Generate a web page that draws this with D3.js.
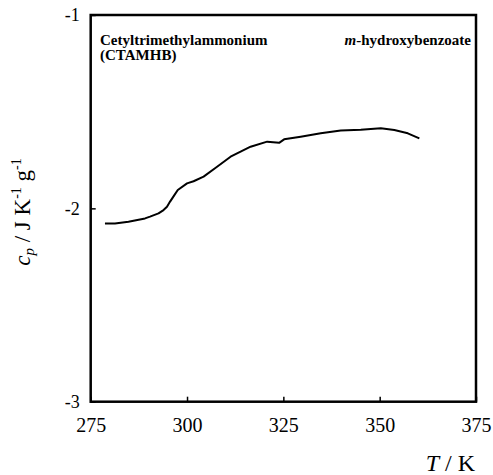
<!DOCTYPE html>
<html>
<head>
<meta charset="utf-8">
<script src="https://cdn.jsdelivr.net/npm/d3@7"></script>
<style>
  body { margin: 0; background: #fff; }
  svg, svg text { font-family: "Liberation Serif", "Times New Roman", serif; }
  .axis path { display: none; }
  .axis line { stroke: #000; stroke-width: 1.5; }
  .axis text { fill: #000; }
</style>
</head>
<body>
<div id="chart"></div>
<script>
// heat capacity trace
const temps = [278.7, 281.3, 284.8, 289.1, 290.4, 292.6, 293.9, 294.8, 295.6, 296.5, 297.6, 300.0,
  301.7, 304.3, 307.8, 311.3, 313.9, 316.5, 320.8, 323.9, 325.2, 329.5, 334.7, 339.9, 345.1,
  350.3, 353.8, 357.3, 360.3];
const cps = [-2.078, -2.078, -2.069, -2.052, -2.043, -2.026, -2.009, -1.992, -1.965, -1.938, -1.905, -1.871,
  -1.860, -1.836, -1.785, -1.733, -1.707, -1.681, -1.655, -1.661, -1.643, -1.630, -1.612, -1.597, -1.593,
  -1.586, -1.595, -1.612, -1.638];
const xTicks = [275, 300, 325, 350, 375];
const yTicks = [-3, -2, -1];
const title1 = "Cetyltrimethylammonium";
const title2 = "hydroxybenzoate";
const title3 = "(CTAMHB)";

const width = 493, height = 475;
const pLeft = 90.7, pRight = 476, pTop = 15, pBottom = 401.7;
const serif = "'Liberation Serif', 'Times New Roman', serif";

const svg = d3.select("#chart").append("svg")
  .attr("width", width)
  .attr("height", height);

const x = d3.scaleLinear().domain([275, 375]).range([pLeft, pRight]);
const y = d3.scaleLinear().domain([-3, -1]).range([pBottom, pTop]);

//x axis, ticks point inward
svg.append("g")
  .attr("class", "axis")
  .attr("transform", `translate(0,${pBottom})`)
  .call(d3.axisBottom(x).tickValues(xTicks).tickSize(-5).tickPadding(16).tickFormat(d3.format("d")))
  .attr("font-family", serif)
  .selectAll("text")
  .style("font-size", "20px");

//y axis
svg.append("g")
  .attr("class", "axis")
  .attr("transform", `translate(${pLeft},0)`)
  .call(d3.axisLeft(y).tickValues(yTicks).tickSize(-5).tickPadding(11).tickFormat(d => "" + d))
  .attr("font-family", serif)
  .selectAll("text")
  .style("font-size", "18px");

//frame
svg.append("rect")
  .attr("x", pLeft)
  .attr("y", pTop)
  .attr("width", pRight - pLeft)
  .attr("height", pBottom - pTop)
  .attr("fill", "none")
  .attr("stroke", "#000")
  .attr("stroke-width", 2.5);

//data trace
const line = d3.line()
  .x((d, i) => x(temps[i]))
  .y(d => y(d));

svg.append("path")
  .datum(cps)
  .attr("d", line)
  .attr("fill", "none")
  .attr("stroke", "#000")
  .attr("stroke-width", 2)
  .attr("stroke-linejoin", "round");

//title
svg.append("text")
  .attr("x", 100)
  .attr("y", 45)
  .style("font-size", "15px")
  .style("font-weight", "bold")
  .text(title1);

const t2 = svg.append("text")
  .attr("x", 471)
  .attr("y", 45)
  .attr("text-anchor", "end")
  .style("font-size", "15px")
  .style("font-weight", "bold");
t2.append("tspan").style("font-style", "italic").text("m");
t2.append("tspan").text("-" + title2);

svg.append("text")
  .attr("x", 100)
  .attr("y", 60)
  .style("font-size", "15px")
  .style("font-weight", "bold")
  .text(title3);

//axis titles
const xl = svg.append("text")
  .attr("x", 475)
  .attr("y", 471)
  .attr("text-anchor", "end")
  .style("font-size", "24px");
xl.append("tspan").style("font-style", "italic").text("T");
xl.append("tspan").text(" / K");

const yl = svg.append("text")
  .attr("transform", "translate(30,212) rotate(-90)")
  .attr("text-anchor", "middle")
  .style("font-size", "23px");
yl.append("tspan").style("font-style", "italic").text("c");
yl.append("tspan").style("font-style", "italic").style("font-size", "15px").attr("dy", 4).text("p");
yl.append("tspan").attr("dy", -4).text(" / J K");
yl.append("tspan").style("font-size", "14px").attr("dy", -9).text("-1");
yl.append("tspan").attr("dy", 9).text(" g");
yl.append("tspan").style("font-size", "14px").attr("dy", -9).text("-1");
</script>
</body>
</html>
